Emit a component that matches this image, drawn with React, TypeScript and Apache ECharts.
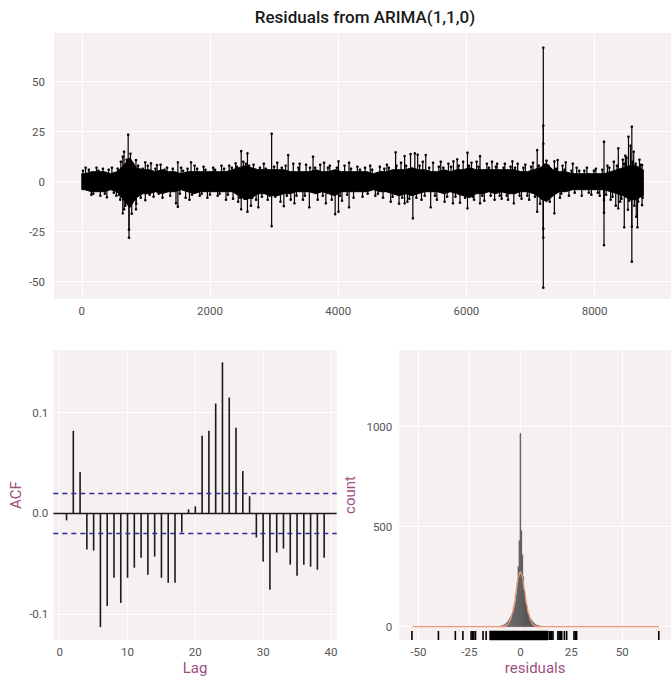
import React, { useEffect, useRef } from 'react';
import * as echarts from 'echarts';

const TITLE = 'Residuals from ARIMA(1,1,0)';

// ---------- top panel: residual series ----------
const timeTicks = [0, 2000, 4000, 6000, 8000];
const residTicks = [-50, -25, 0, 25, 50];
const seriesStart = 1;
const seriesEnd = 8760;
const bandStep = 100;
// core band (upper / lower) per 100-step bucket, bucket centres at 50, 150, ...
const bandHi = [
  4, 5, 5, 5, 4, 5, 8, 12, 7, 6, 6, 5, 6, 5, 5, 4, 5, 5, 5, 5,
  5, 5, 5, 6, 7, 8, 7, 6, 6, 6, 6, 6, 5, 5, 5, 5, 6, 5, 5, 6,
  5, 5, 5, 5, 5, 4, 5, 5, 6, 6, 6, 7, 6, 6, 5, 5, 6, 5, 6, 6,
  7, 6, 6, 6, 6, 6, 6, 6, 5, 5, 6, 7, 9, 6, 5, 5, 4, 4, 4, 4,
  4, 4, 5, 6, 7, 8, 8, 6,
];
const bandLo = [
  -4, -5, -5, -5, -4, -5, -9, -13, -8, -6, -6, -5, -6, -5, -5, -4, -5, -6, -5, -5,
  -5, -5, -5, -5, -7, -9, -8, -6, -6, -7, -7, -6, -6, -5, -5, -5, -6, -5, -6, -7,
  -5, -5, -5, -5, -5, -4, -5, -5, -6, -7, -6, -7, -6, -5, -5, -5, -6, -5, -6, -7,
  -8, -6, -6, -5, -6, -5, -6, -6, -5, -5, -6, -8, -10, -7, -5, -5, -4, -4, -4, -4,
  -4, -4, -5, -6, -7, -9, -9, -7,
];
const spikes: [number, number][] = [
  [640, 12.5], [640, -15.8], [660, 15], [662, -13.8], [700, 11], [724, 23.5], [737, -28],
  [737, -24], [760, 14], [780, -16], [846, 10.8], [846, -13.8], [850, -11], [392, -7.8],
  [991, 9.7], [991, -9.2], [1080, 9.2], [1174, 8.3], [1499, 9.7], [1499, -12.5], [1470, -10.8],
  [1705, 9.7], [2300, 8], [2400, 9.2], [2487, 15.3], [2487, -13.8], [2585, 14.2], [2585, -15],
  [2520, 10], [2640, -12], [2755, -12.8], [2962, 24], [2962, -22.2], [3152, -12.2], [3220, 13.3],
  [3318, -10.8], [3400, 9], [3550, -12.8], [3608, 12.5], [3808, -10.8], [3953, -16.2],
  [4005, -15], [4005, 10.2], [4170, -12.8], [4170, 9.5], [4500, 8], [4896, 14.7], [5036, 12.8],
  [5036, -10.8], [5129, 13.8], [5165, -18.3], [5196, 14.2], [5240, 13.5], [5366, 13.3],
  [5443, -12.8], [5798, 10.2], [5857, 11.2], [5790, -10.8], [6017, 14.5], [6017, -13.3],
  [6213, 12.8], [6213, -10.8], [6320, 9], [6718, 10.2], [6740, -10.8], [7105, 15.8], [7105, -15],
  [7200, 67], [7200, -53], [7200, 28], [7200, 19], [7200, -23.5], [7200, -28], [7373, -15.8],
  [7424, 10.8], [7373, 10.2], [7550, 9.7], [7660, 9], [8147, 20], [8147, -31.7], [8147, -15.5],
  [8147, -9.2], [8370, 16.7], [8370, -13.3], [8463, -22.8], [8529, 22.5], [8581, 27.5],
  [8581, -40], [8581, -22.5], [8669, -22.8], [8650, -17.5], [8741, 8.3], [8741, -11.7],
  [8500, 12], [8610, 15], [8440, 11],
  [60, 7], [150, -6.5], [230, 7], [290, -7], [330, 6.5], [470, 7], [540, -7], [560, 6.5],
  [600, -9], [610, 10], [680, -12], [800, 9], [880, 8], [920, -8], [1030, 8], [1120, -7.5],
  [1230, 8.5], [1260, -8], [1330, 7], [1380, -7], [1550, 7], [1620, -8], [1680, -9], [1760, 8],
  [1840, -7], [1900, 7.5], [1960, -8], [2050, 7], [2120, -7], [2180, 8], [2250, -9], [2360, -8.5],
  [2440, -10], [2560, 9], [2680, 8.5], [2720, -9], [2840, 9], [2900, -9], [3050, 9.5],
  [3100, -10], [3180, 8], [3260, -9], [3300, 9], [3450, -9], [3500, 8.5], [3680, -9],
  [3720, 8.5], [3780, 9.5], [3870, 8], [3900, -9], [4060, -9.5], [4100, 8], [4240, -8],
  [4300, 7.5], [4380, -7.5], [4420, 7], [4580, -7], [4650, 7.5], [4700, -8], [4760, 8.5],
  [4820, -10], [4950, -11], [4980, 9.5], [5080, -10], [5300, -9], [5320, 10], [5480, 9.5],
  [5540, -9], [5600, 10], [5660, -10], [5720, 9], [5900, -10.5], [5950, 10], [6080, 9.5],
  [6120, -9], [6160, 10], [6280, -9.5], [6400, 10], [6440, -9], [6480, 9], [6550, -8.5],
  [6600, 9], [6650, -9], [6800, 9], [6860, -8.5], [6920, 8.5], [6980, -9], [7040, 9.5],
  [7150, -11], [7250, 10.5], [7300, -10], [7460, -8], [7500, 8], [7600, -7], [7720, 7],
  [7800, -7], [7880, 7], [7950, -6.5], [8020, 6.5], [8080, -7], [8200, 8], [8250, -9],
  [8300, 10], [8330, -12], [8400, -10], [8480, 13], [8520, -14], [8560, 18], [8620, -12],
  [8700, 11],
  // fringe of smaller excursions along the band edges
  [20, 5.5], [110, 6], [180, -6], [260, 5.5], [360, -6], [420, 6], [500, -5.5], [580, -6.5],
  [950, 6.5], [1060, -6.5], [1150, 6.5], [1200, -6], [1290, 6], [1420, 6.5], [1530, -6],
  [1580, 5.5], [1650, 6.5], [1720, -6.5], [1800, 6.5], [1870, -6], [1930, 6], [2000, -6.5],
  [2080, 6], [2150, -6], [2220, 6.5], [2280, -6.5], [2340, 7], [2420, 7.5], [2470, -8],
  [2540, -8.5], [2610, 8], [2660, -8], [2780, 7], [2810, -7.5], [2870, 6.5], [2930, -7],
  [3000, 7.5], [3020, -7.5], [3120, 7], [3200, -7], [3350, -7], [3380, 7], [3480, -7],
  [3560, 7], [3640, 7], [3760, -7], [3840, 7], [3980, 7], [4030, -7], [4140, -6.5],
  [4200, 6.5], [4340, 6], [4460, -6], [4530, 6], [4620, -6], [4720, 6.5], [4790, 7],
  [4850, -7.5], [4910, 8], [5000, -8], [5060, 8], [5110, -8.5], [5220, -8], [5270, 8],
  [5350, -7], [5420, 7], [5510, -7], [5570, 7.5], [5640, 7], [5700, -7.5], [5760, 7.5],
  [5830, -7.5], [5880, 8], [5980, -8], [6040, 8], [6100, -7.5], [6190, 7.5], [6250, -7],
  [6350, 7], [6380, -7], [6460, 7.5], [6520, -7], [6580, 7], [6630, -7], [6690, 7.5],
  [6760, 7], [6830, -7], [6890, 7], [6950, -7], [7010, 7.5], [7070, -7.5], [7130, 8],
  [7180, -8.5], [7230, 8.5], [7280, 8], [7330, -7], [7400, 6.5], [7480, -6], [7530, 6],
  [7640, 5.5], [7690, -5.5], [7760, 5.5], [7840, 5.5], [7910, -5.5], [7990, 5.5], [8050, -5.5],
  [8120, 6], [8180, -6.5], [8230, 7], [8280, -7.5], [8350, 8], [8420, -8.5], [8460, 9],
  [8540, -9.5], [8590, 10], [8640, 9], [8680, -10], [8720, 8.5], [8750, -8],
];

// ---------- bottom left: ACF ----------
const lags = [
  1, 2, 3, 4, 5, 6, 7, 8, 9, 10, 11, 12, 13, 14, 15, 16, 17, 18, 19, 20,
  21, 22, 23, 24, 25, 26, 27, 28, 29, 30, 31, 32, 33, 34, 35, 36, 37, 38, 39,
];
const acfValues = [
  -0.007, 0.082, 0.041, -0.036, -0.037, -0.113, -0.092, -0.064, -0.089, -0.064,
  -0.054, -0.044, -0.061, -0.043, -0.064, -0.069, -0.069, -0.019, 0.004, 0.007,
  0.077, 0.082, 0.109, 0.150, 0.115, 0.085, 0.042, 0.017, -0.024, -0.048,
  -0.076, -0.039, -0.035, -0.051, -0.062, -0.051, -0.053, -0.056, -0.044,
];
const ciBound = 0.0209;
const lagTicks = [0, 10, 20, 30, 40];
const acfTicks = [-0.1, 0, 0.1];

// ---------- bottom right: histogram ----------
const binWidth = 0.5;
const binCenters = [
  -11, -10.5, -10, -9.5, -9, -8.5, -8, -7.5, -7, -6.5, -6, -5.5, -5, -4.5, -4, -3.5, -3, -2.5, -2, -1.5, -1, -0.5,
  0, 0.5, 1, 1.5, 2, 2.5, 3, 3.5, 4, 4.5, 5, 5.5, 6, 6.5, 7, 7.5, 8, 8.5, 9, 9.5, 10, 10.5, 11,
];
const binCounts = [
  1, 2, 3, 4, 5, 7, 9, 12, 16, 21, 28, 36, 45, 54, 64, 78, 96, 122, 160, 220, 300, 430,
  967, 480, 360, 250, 182, 138, 108, 84, 66, 52, 42, 33, 26, 20, 15, 11, 8, 6, 5, 4, 3, 2, 1,
];
const densityX = [-53, -10, -8, -7, -6, -5, -4, -3, -2, -1, 0, 1, 2, 3, 4, 5, 6, 7, 8, 10, 68];
const densityY = [0, 0, 1, 5, 13, 33, 65, 115, 183, 250, 275, 250, 183, 115, 65, 33, 13, 5, 1, 0, 0];
const rugValues = [
  -53.2, -40.2, -31.9, -28.2, -24.2, -23.5, -22.8, -22.0, -18.3, -16.8,
  14.2, 14.8, 15.4, 16.0, 18.4, 19.0, 19.6, 20.3, 21.6, 22.7, 26.3, 27.0, 27.6, 67.9,
];
const rugDenseRange = [-15.1, 13.6];
const residualTicks = [-50, -25, 0, 25, 50];
const countTicks = [0, 500, 1000];

// ---------- styling ----------
const PANEL_BG = '#F6F0F0';
const TICK_COLOR = '#555555';
const NAME_COLOR = '#A0507F';
const TICK_FONT = 'Roboto, "Noto Sans", sans-serif';
const NAME_FONT = 'Roboto, "Noto Sans", sans-serif';

function valueAxis(gridIndex: number, min: number, max: number, ticks: number[], extra: any = {}) {
  return {
    type: 'value',
    gridIndex,
    min,
    max,
    axisLine: { show: false },
    axisTick: { show: false, customValues: ticks },
    axisLabel: {
      customValues: ticks,
      color: TICK_COLOR,
      fontSize: 11.5,
      fontFamily: TICK_FONT,
      margin: 6,
      formatter: (v: number) => String(v),
      ...(extra.axisLabel || {}),
    },
    splitLine: { show: true, lineStyle: { color: '#FFFFFF', width: 1.2 } },
    nameTextStyle: { color: NAME_COLOR, fontSize: 15, fontFamily: NAME_FONT },
    ...extra.rest,
  };
}

export default function App() {
  const ref = useRef<HTMLDivElement>(null);
  useEffect(() => {
    if (!ref.current) return;
    const chart = echarts.init(ref.current, undefined, { renderer: 'svg' });

    const option: any = {
      animation: false,
      backgroundColor: '#FFFFFF',
      graphic: [
        {
          type: 'text',
          x: 365,
          y: 17,
          style: {
            text: TITLE,
            fill: '#1A1A1A',
            font: '500 17px Roboto, sans-serif',
            textAlign: 'center',
            textVerticalAlign: 'middle',
          },
        },
      ],
      grid: [
        { left: 54, top: 33, width: 622, height: 266, show: true, backgroundColor: PANEL_BG, borderWidth: 0 },
        { left: 53.3, top: 350, width: 283.4, height: 290, show: true, backgroundColor: PANEL_BG, borderWidth: 0 },
        { left: 399.3, top: 350, width: 278.3, height: 290, show: true, backgroundColor: PANEL_BG, borderWidth: 0 },
      ],
      xAxis: [
        valueAxis(0, -433, 9192, timeTicks),
        valueAxis(1, -0.95, 40.85, lagTicks, {
          rest: { name: 'Lag', nameLocation: 'middle', nameGap: 20 },
        }),
        valueAxis(2, -59.4, 73.9, residualTicks, {
          rest: { name: 'residuals', nameLocation: 'middle', nameGap: 20 },
        }),
      ],
      yAxis: [
        valueAxis(0, -58.65, 74.35, residTicks, { axisLabel: { margin: 9 } }),
        valueAxis(1, -0.1258, 0.1622, acfTicks, {
          axisLabel: { formatter: (v: number) => v.toFixed(1), margin: 5 },
          rest: { name: 'ACF', nameLocation: 'middle', nameGap: 30, nameRotate: 90 },
        }),
        valueAxis(2, -66.5, 1383, countTicks, {
          axisLabel: { margin: 7 },
          rest: { name: 'count', nameLocation: 'middle', nameGap: 42, nameRotate: 90 },
        }),
      ],
      series: [
        {
          // dense core of the residual series, drawn as a band between envelopes
          type: 'custom',
          xAxisIndex: 0,
          yAxisIndex: 0,
          data: [[seriesStart, seriesEnd]],
          encode: { x: [0, 1] },
          renderItem: (params: any, api: any) => {
            const top: number[][] = [api.coord([seriesStart, bandHi[0]])];
            const bot: number[][] = [api.coord([seriesStart, bandLo[0]])];
            bandHi.forEach((h, i) => {
              const xc = Math.min(i * bandStep + bandStep / 2, seriesEnd);
              top.push(api.coord([xc, h]));
              bot.push(api.coord([xc, bandLo[i]]));
            });
            top.push(api.coord([seriesEnd, bandHi[bandHi.length - 1]]));
            bot.push(api.coord([seriesEnd, bandLo[bandLo.length - 1]]));
            return {
              type: 'polygon',
              shape: { points: top.concat(bot.reverse()) },
              style: { fill: '#000000', stroke: '#000000', lineWidth: 1 },
            };
          },
        },
        {
          type: 'custom',
          xAxisIndex: 0,
          yAxisIndex: 0,
          data: spikes,
          encode: { x: 0, y: 1 },
          renderItem: (params: any, api: any) => {
            const x = api.value(0);
            const y = api.value(1);
            const p0 = api.coord([x, 0]);
            const p1 = api.coord([x, y]);
            return {
              type: 'group',
              children: [
                {
                  type: 'line',
                  shape: { x1: p0[0], y1: p0[1], x2: p1[0], y2: p1[1] },
                  style: { stroke: '#000000', lineWidth: 1.2 },
                },
                {
                  type: 'circle',
                  shape: { cx: p1[0], cy: p1[1], r: 1.3 },
                  style: { fill: '#000000' },
                },
              ],
            };
          },
        },
        {
          type: 'bar',
          xAxisIndex: 1,
          yAxisIndex: 1,
          data: lags.map((l, i) => [l, acfValues[i]]),
          barWidth: 1.6,
          itemStyle: { color: '#1A1A1A' },
          markLine: {
            silent: true,
            symbol: 'none',
            label: { show: false },
            data: [
              { yAxis: ciBound, lineStyle: { color: '#2B2B9A', type: [5, 4], width: 1.4 } },
              { yAxis: -ciBound, lineStyle: { color: '#2B2B9A', type: [5, 4], width: 1.4 } },
              { yAxis: 0, lineStyle: { color: '#1A1A1A', type: 'solid', width: 1.3 } },
            ],
          },
        },
        {
          type: 'custom',
          xAxisIndex: 2,
          yAxisIndex: 2,
          data: binCenters.map((c, i) => [c, binCounts[i]]),
          encode: { x: 0, y: 1 },
          renderItem: (params: any, api: any) => {
            const c = api.value(0);
            const n = api.value(1);
            const p1 = api.coord([c - binWidth / 2, n]);
            const p2 = api.coord([c + binWidth / 2, 0]);
            return {
              type: 'rect',
              shape: { x: p1[0], y: p1[1], width: p2[0] - p1[0], height: p2[1] - p1[1] },
              style: { fill: '#595959', stroke: '#595959', lineWidth: 0.3 },
            };
          },
        },
        {
          type: 'line',
          xAxisIndex: 2,
          yAxisIndex: 2,
          data: densityX.map((x, i) => [x, densityY[i]]),
          smooth: 0.4,
          smoothMonotone: 'x',
          showSymbol: false,
          symbol: 'none',
          lineStyle: { color: '#EE9A78', width: 1.3 },
        },
        {
          type: 'custom',
          xAxisIndex: 2,
          yAxisIndex: 2,
          data: rugValues.map((v) => [v, 0]),
          encode: { x: 0, y: 1 },
          renderItem: (params: any, api: any) => {
            const p = api.coord([api.value(0), 0]);
            const bottom = params.coordSys.y + params.coordSys.height;
            return {
              type: 'line',
              shape: { x1: p[0], y1: bottom, x2: p[0], y2: bottom - 9 },
              style: { stroke: '#000000', lineWidth: 1.6 },
            };
          },
        },
        {
          type: 'custom',
          xAxisIndex: 2,
          yAxisIndex: 2,
          data: [[rugDenseRange[0], rugDenseRange[1]]],
          encode: { x: [0, 1] },
          renderItem: (params: any, api: any) => {
            const a = api.coord([api.value(0), 0]);
            const b = api.coord([api.value(1), 0]);
            const bottom = params.coordSys.y + params.coordSys.height;
            return {
              type: 'rect',
              shape: { x: a[0], y: bottom - 9, width: b[0] - a[0], height: 9 },
              style: { fill: '#000000', stroke: '#000000', lineWidth: 0.5 },
            };
          },
        },
      ],
    };

    chart.setOption(option);
    return () => chart.dispose();
  }, []);

  return (
    <div
      ref={ref}
      style={{ position: 'fixed', left: 0, top: 0, width: 671, height: 677, background: '#fff' }}
    />
  );
}
